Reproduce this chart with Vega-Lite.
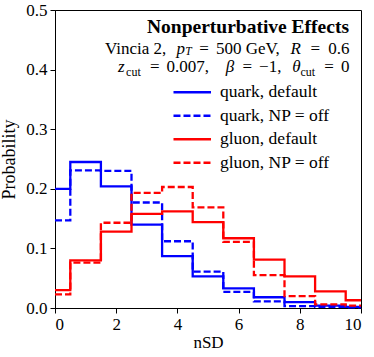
{
  "$schema": "https://vega.github.io/schema/vega-lite/v6.json",
  "width": 306,
  "height": 298,
  "autosize": {"type": "none"},
  "padding": {"left": 55, "top": 10, "right": 13, "bottom": 49},
  "background": "white",
  "config": {
    "font": "Liberation Serif",
    "view": {"stroke": "#000", "strokeWidth": 1},
    "axis": {
      "grid": false,
      "domainColor": "#000",
      "tickColor": "#000",
      "labelColor": "#000",
      "titleColor": "#000",
      "labelFontSize": 17,
      "titleFontSize": 18,
      "titleFontWeight": "normal",
      "tickSize": 5,
      "labelPadding": 3
    },
    "text": {"color": "#000"}
  },
  "layer": [
    {
      "data": {
        "values": [
          {"series": "quark, default", "x0": 0, "x1": 0.5, "p": 0.200},
          {"series": "quark, default", "x0": 0.5, "x1": 1.5, "p": 0.245},
          {"series": "quark, default", "x0": 1.5, "x1": 2.5, "p": 0.204},
          {"series": "quark, default", "x0": 2.5, "x1": 3.5, "p": 0.140},
          {"series": "quark, default", "x0": 3.5, "x1": 4.5, "p": 0.087},
          {"series": "quark, default", "x0": 4.5, "x1": 5.5, "p": 0.053},
          {"series": "quark, default", "x0": 5.5, "x1": 6.5, "p": 0.033},
          {"series": "quark, default", "x0": 6.5, "x1": 7.5, "p": 0.018},
          {"series": "quark, default", "x0": 7.5, "x1": 8.5, "p": 0.010},
          {"series": "quark, default", "x0": 8.5, "x1": 9.5, "p": 0.004},
          {"series": "quark, default", "x0": 9.5, "x1": 10, "p": 0.002},
          {"series": "quark, NP = off", "x0": 0, "x1": 0.5, "p": 0.147},
          {"series": "quark, NP = off", "x0": 0.5, "x1": 1.5, "p": 0.231},
          {"series": "quark, NP = off", "x0": 1.5, "x1": 2.5, "p": 0.230},
          {"series": "quark, NP = off", "x0": 2.5, "x1": 3.5, "p": 0.177},
          {"series": "quark, NP = off", "x0": 3.5, "x1": 4.5, "p": 0.112},
          {"series": "quark, NP = off", "x0": 4.5, "x1": 5.5, "p": 0.061},
          {"series": "quark, NP = off", "x0": 5.5, "x1": 6.5, "p": 0.027},
          {"series": "quark, NP = off", "x0": 6.5, "x1": 7.5, "p": 0.011},
          {"series": "quark, NP = off", "x0": 7.5, "x1": 8.5, "p": 0.003},
          {"series": "quark, NP = off", "x0": 8.5, "x1": 9.5, "p": 0.002},
          {"series": "quark, NP = off", "x0": 9.5, "x1": 10, "p": 0.001},
          {"series": "gluon, default", "x0": 0, "x1": 0.5, "p": 0.030},
          {"series": "gluon, default", "x0": 0.5, "x1": 1.5, "p": 0.080},
          {"series": "gluon, default", "x0": 1.5, "x1": 2.5, "p": 0.128},
          {"series": "gluon, default", "x0": 2.5, "x1": 3.5, "p": 0.158},
          {"series": "gluon, default", "x0": 3.5, "x1": 4.5, "p": 0.162},
          {"series": "gluon, default", "x0": 4.5, "x1": 5.5, "p": 0.144},
          {"series": "gluon, default", "x0": 5.5, "x1": 6.5, "p": 0.117},
          {"series": "gluon, default", "x0": 6.5, "x1": 7.5, "p": 0.081},
          {"series": "gluon, default", "x0": 7.5, "x1": 8.5, "p": 0.053},
          {"series": "gluon, default", "x0": 8.5, "x1": 9.5, "p": 0.028},
          {"series": "gluon, default", "x0": 9.5, "x1": 10, "p": 0.013},
          {"series": "gluon, NP = off", "x0": 0, "x1": 0.5, "p": 0.023},
          {"series": "gluon, NP = off", "x0": 0.5, "x1": 1.5, "p": 0.076},
          {"series": "gluon, NP = off", "x0": 1.5, "x1": 2.5, "p": 0.143},
          {"series": "gluon, NP = off", "x0": 2.5, "x1": 3.5, "p": 0.193},
          {"series": "gluon, NP = off", "x0": 3.5, "x1": 4.5, "p": 0.203},
          {"series": "gluon, NP = off", "x0": 4.5, "x1": 5.5, "p": 0.169},
          {"series": "gluon, NP = off", "x0": 5.5, "x1": 6.5, "p": 0.111},
          {"series": "gluon, NP = off", "x0": 6.5, "x1": 7.5, "p": 0.055},
          {"series": "gluon, NP = off", "x0": 7.5, "x1": 8.5, "p": 0.020},
          {"series": "gluon, NP = off", "x0": 8.5, "x1": 9.5, "p": 0.006},
          {"series": "gluon, NP = off", "x0": 9.5, "x1": 10, "p": 0.004}
        ]
      },
      "transform": [{"fold": ["x0", "x1"], "as": ["edge", "x"]}],
      "mark": {"type": "line", "strokeWidth": 2.3, "strokeJoin": "miter", "strokeCap": "butt"},
      "encoding": {
        "x": {
          "field": "x", "type": "quantitative",
          "scale": {"domain": [0, 10], "nice": false, "zero": false},
          "axis": {"values": [0, 2, 4, 6, 8, 10], "title": "nSD", "titlePadding": 2, "titleFontSize": 17}
        },
        "y": {
          "field": "p", "type": "quantitative",
          "scale": {"domain": [0, 0.5], "nice": false},
          "axis": {"values": [0, 0.1, 0.2, 0.3, 0.4, 0.5], "format": ".1f", "title": "Probability", "titlePadding": 7}
        },
        "color": {
          "field": "series", "type": "nominal",
          "scale": {
            "domain": ["quark, default", "quark, NP = off", "gluon, default", "gluon, NP = off"],
            "range": ["#0000ff", "#0000ff", "#ff0000", "#ff0000"]
          },
          "legend": {
            "orient": "none", "legendX": 128.5, "legendY": 73.5, "title": null,
            "symbolType": "M-2.68,0H2.68", "symbolSize": 196, "symbolStrokeWidth": 2.5,
            "labelOffset": 19, "labelFontSize": 17.5, "labelColor": "#000", "rowPadding": 4.5, "padding": 0
          }
        },
        "strokeDash": {
          "field": "series", "type": "nominal",
          "scale": {
            "domain": ["quark, default", "quark, NP = off", "gluon, default", "gluon, NP = off"],
            "range": [[1, 0], [7, 3], [1, 0], [7, 3]]
          },
          "legend": {
            "orient": "none", "legendX": 128.5, "legendY": 73.5, "title": null,
            "symbolType": "M-2.68,0H2.68", "symbolSize": 196, "symbolStrokeWidth": 2.5,
            "labelOffset": 19, "labelFontSize": 17.5, "labelColor": "#000", "rowPadding": 4.5, "padding": 0
          }
        },
        "order": [{"field": "x", "type": "quantitative"}, {"field": "edge", "sort": "descending"}]
      }
    },
    {
      "data": {"values": [{"x": 9.608, "p": 0.4614, "t": "Nonperturbative Effects"}]},
      "mark": {"type": "text", "align": "right", "baseline": "alphabetic", "fontSize": 19.5, "fontWeight": "bold"},
      "encoding": {
        "x": {"field": "x", "type": "quantitative"},
        "y": {"field": "p", "type": "quantitative"},
        "text": {"field": "t"}
      }
    },
    {
      "data": {"values": [
        {"x": 1.634, "p": 0.4270, "t": "Vincia 2,"},
        {"x": 5.258, "p": 0.4270, "t": "500 GeV,"},
        {"x": 3.644, "p": 0.3960, "t": "0.007,"},
        {"x": 6.670, "p": 0.3960, "t": "−1,"}
      ]},
      "mark": {"type": "text", "align": "left", "baseline": "alphabetic", "fontSize": 17},
      "encoding": {
        "x": {"field": "x", "type": "quantitative"},
        "y": {"field": "p", "type": "quantitative"},
        "text": {"field": "t"}
      }
    },
    {
      "data": {"values": [
        {"x": 4.873, "p": 0.4270, "t": "="},
        {"x": 8.510, "p": 0.4270, "t": "="},
        {"x": 3.261, "p": 0.3960, "t": "="},
        {"x": 6.288, "p": 0.3960, "t": "="},
        {"x": 8.958, "p": 0.3960, "t": "="}
      ]},
      "mark": {"type": "text", "align": "center", "baseline": "alphabetic", "fontSize": 17},
      "encoding": {
        "x": {"field": "x", "type": "quantitative"},
        "y": {"field": "p", "type": "quantitative"},
        "text": {"field": "t"}
      }
    },
    {
      "data": {"values": [
        {"x": 9.624, "p": 0.4270, "t": "0.6"},
        {"x": 9.624, "p": 0.3960, "t": "0"}
      ]},
      "mark": {"type": "text", "align": "right", "baseline": "alphabetic", "fontSize": 17},
      "encoding": {
        "x": {"field": "x", "type": "quantitative"},
        "y": {"field": "p", "type": "quantitative"},
        "text": {"field": "t"}
      }
    },
    {
      "data": {"values": [
        {"x": 3.971, "p": 0.4270, "t": "p"},
        {"x": 7.693, "p": 0.4270, "t": "R"},
        {"x": 2.059, "p": 0.3960, "t": "z"},
        {"x": 5.582, "p": 0.3960, "t": "β"},
        {"x": 7.752, "p": 0.3960, "t": "θ"}
      ]},
      "mark": {"type": "text", "align": "left", "baseline": "alphabetic", "fontSize": 17, "fontStyle": "italic"},
      "encoding": {
        "x": {"field": "x", "type": "quantitative"},
        "y": {"field": "p", "type": "quantitative"},
        "text": {"field": "t"}
      }
    },
    {
      "data": {"values": [
        {"x": 4.258, "p": 0.4245, "t": "T"}
      ]},
      "mark": {"type": "text", "align": "left", "baseline": "alphabetic", "fontSize": 11.5, "fontStyle": "italic"},
      "encoding": {
        "x": {"field": "x", "type": "quantitative"},
        "y": {"field": "p", "type": "quantitative"},
        "text": {"field": "t"}
      }
    },
    {
      "data": {"values": [
        {"x": 2.324, "p": 0.3901, "t": "cut"},
        {"x": 8.020, "p": 0.3901, "t": "cut"}
      ]},
      "mark": {"type": "text", "align": "left", "baseline": "alphabetic", "fontSize": 12},
      "encoding": {
        "x": {"field": "x", "type": "quantitative"},
        "y": {"field": "p", "type": "quantitative"},
        "text": {"field": "t"}
      }
    }
  ]
}
